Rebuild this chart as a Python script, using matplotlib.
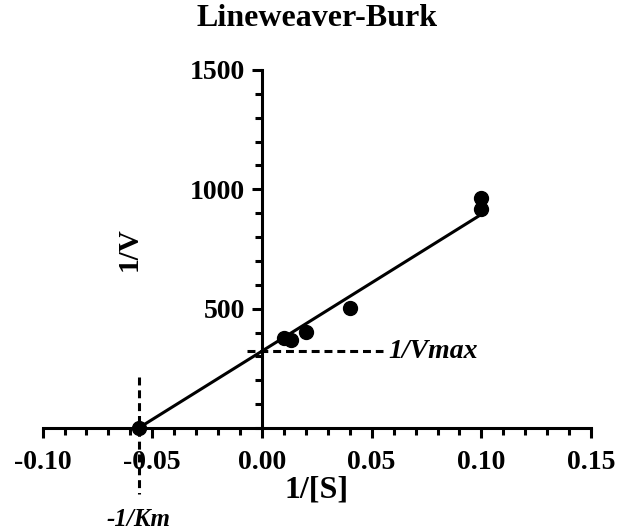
import numpy as np
import matplotlib
matplotlib.use('Agg')
import matplotlib.pyplot as plt
from matplotlib.ticker import MultipleLocator, FixedLocator, FormatStrFormatter

plt.rcParams['font.family'] = 'Liberation Serif'
plt.rcParams['font.weight'] = 'bold'

# datele (1/[S], 1/V)
inv_s = [0.1, 0.1, 0.04, 0.02, 0.0133, 0.01]
inv_v = [962, 918, 502, 401, 369, 376]

# parametrii dreptei
inv_km = 0.0562     # -1/Km = -0.0562
inv_vmax = 322      # 1/Vmax

x_ticks = [-0.10, -0.05, 0.00, 0.05, 0.10, 0.15]
y_ticks = [500, 1000, 1500]

fig = plt.figure(figsize=(6.17, 5.30), dpi=100)
ax = fig.add_axes([0.069, 0.1925, 0.889, 0.6755])

ax.set_xlim(-0.10, 0.15)
ax.set_ylim(0, 1500)

LW = 2.2

ax.spines['top'].set_visible(False)
ax.spines['right'].set_visible(False)
ax.spines['left'].set_position(('data', 0))
for s in ['left', 'bottom']:
    ax.spines[s].set_linewidth(LW)

ax.xaxis.set_major_locator(FixedLocator(x_ticks))
ax.xaxis.set_minor_locator(MultipleLocator(0.01))
ax.xaxis.set_major_formatter(FormatStrFormatter('%.2f'))
ax.yaxis.set_major_locator(FixedLocator(y_ticks))
ax.yaxis.set_minor_locator(MultipleLocator(100))

ax.tick_params(which='major', length=7.2, width=LW, direction='out', labelsize=20)
ax.tick_params(which='minor', length=4.8, width=LW, direction='out')
ax.tick_params(axis='x', which='major', pad=9)
ax.tick_params(axis='y', which='major', pad=5)
for lab in ax.get_xticklabels() + ax.get_yticklabels():
    lab.set_fontweight('bold')

# dreapta de regresie
slope = inv_vmax / inv_km
xl = np.array([-inv_km, 0.1])
ax.plot(xl, inv_vmax + slope * xl, color='black', lw=LW, clip_on=False, zorder=3)

# punctele
ax.plot(inv_s, inv_v, 'o', color='black', ms=10, clip_on=False, zorder=4)
ax.plot([-inv_km], [0], 'o', color='black', ms=10, clip_on=False, zorder=4)

# liniile punctate
dash = (0, (2.6, 1.6))
ax.plot([-0.007, 0.055], [inv_vmax, inv_vmax], color='black', lw=LW, ls=dash, zorder=2)
ax.plot([-inv_km, -inv_km], [215, -275], color='black', lw=LW, ls=dash, clip_on=False, zorder=2)

ax.text(0.0575, inv_vmax, '1/Vmax', fontsize=20, fontstyle='italic', fontweight='bold',
        ha='left', va='center')
ax.text(-inv_km, -385, '-1/Km', fontsize=18, fontstyle='italic', fontweight='bold',
        ha='center', va='center', clip_on=False)

ax.set_title('Lineweaver-Burk', fontsize=23, fontweight='bold', pad=32)
ax.set_xlabel('1/[S]', fontsize=23, fontweight='bold', labelpad=0)
ax.set_ylabel('1/V', fontsize=21, fontweight='bold')
ax.yaxis.set_label_coords(0.182, 0.5)

fig.savefig('out.png', dpi=100)
